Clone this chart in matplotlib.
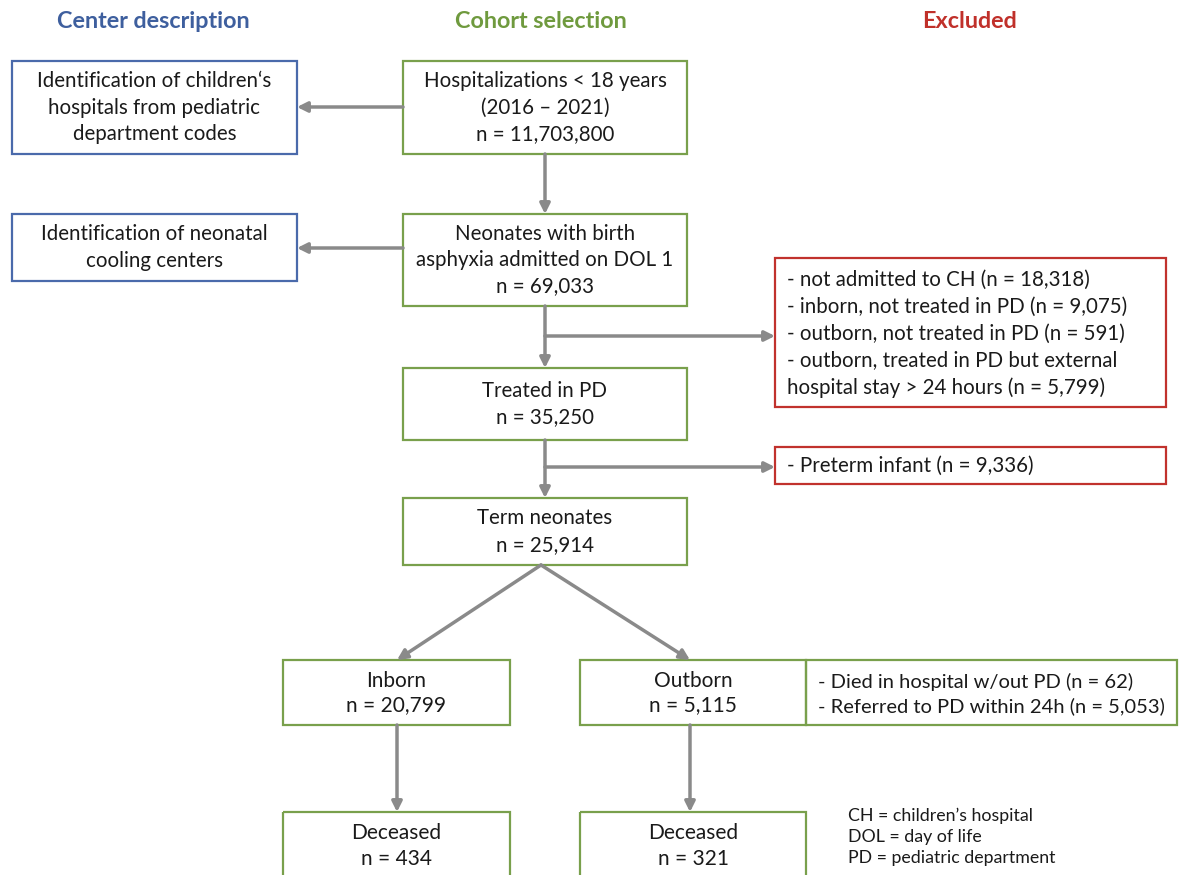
import matplotlib.pyplot as plt
from matplotlib.patches import Rectangle

plt.rcParams['font.family'] = ['Lato', 'DejaVu Sans']

BLUE = '#4a6aab'
GREEN = '#79a04c'
RED = '#c1322d'
GRAY = '#8a8a8a'

headers = ['Center description', 'Cohort selection', 'Excluded']
header_x = [153, 541, 970]
header_col = ['#3e5f9e', '#6f9a3e', '#c0302a']

center_labels = ['Identification of children\u2018s\nhospitals from pediatric\ndepartment codes',
                 'Identification of neonatal\ncooling centers']

cohort_labels = ['Hospitalizations < 18 years\n(2016 \u2013 2021)\nn = 11,703,800',
                 'Neonates with birth\nasphyxia admitted on DOL 1\nn = 69,033',
                 'Treated in PD\nn = 35,250',
                 'Term neonates\nn = 25,914']

excluded_labels = ['- not admitted to CH (n = 18,318)\n- inborn, not treated in PD (n = 9,075)\n'
                   '- outborn, not treated in PD (n = 591)\n- outborn, treated in PD but external\n'
                   'hospital stay > 24 hours (n = 5,799)',
                   '- Preterm infant (n = 9,336)']

split_labels = ['Inborn\nn = 20,799', 'Outborn\nn = 5,115']
outborn_note = '- Died in hospital w/out PD (n = 62)\n- Referred to PD within 24h (n = 5,053)'
deceased_labels = ['Deceased\nn = 434', 'Deceased\nn = 321']
abbrev = 'CH = children\u2019s hospital\nDOL = day of life\nPD = pediatric department'

fig = plt.figure(figsize=(11.79, 8.75), dpi=100)
ax = fig.add_axes([0, 0, 1, 1])
ax.set_xlim(0, 1179)
ax.set_ylim(875, 0)
ax.axis('off')


def box(x0, y0, x1, y1, text, col, ha='center', fs=14.8, ls=1.4, ty=None, pad=12):
    ax.add_patch(Rectangle((x0, y0), x1 - x0, y1 - y0, fill=False, ec=col, lw=1.6))
    tx = (x0 + x1) / 2 if ha == 'center' else x0 + pad
    if ty is None:
        ty = (y0 + y1) / 2
    ax.text(tx, ty, text, ha=ha, va='center', fontsize=fs,
            linespacing=ls, color='#1a1a1a', multialignment=ha)


def arrow(x0, y0, x1, y1):
    ax.annotate('', xy=(x1, y1), xytext=(x0, y0),
                arrowprops=dict(arrowstyle='-|>,head_length=0.6,head_width=0.3',
                                color=GRAY, lw=2.5, shrinkA=0, shrinkB=0))


for h, x, c in zip(headers, header_x, header_col):
    ax.text(x, 21, h, ha='center', va='center', fontsize=16.8, fontweight='bold', color=c)

# center description
box(12, 61, 297, 154, center_labels[0], BLUE)
box(12, 214, 297, 281, center_labels[1], BLUE)

# cohort
cohort_y = [(61, 154), (214, 306), (368, 440), (498, 565)]
for (y0, y1), lab in zip(cohort_y, cohort_labels):
    box(403, y0, 687, y1, lab, GREEN)

# excluded
box(775, 258, 1166, 407, excluded_labels[0], RED, ha='left', ls=1.43, ty=334)
box(775, 447, 1166, 484, excluded_labels[1], RED, ha='left')

# split
box(283, 660, 510, 725, split_labels[0], GREEN, fs=15, ls=1.3, ty=693)
box(580, 660, 806, 725, split_labels[1], GREEN, fs=15, ls=1.3, ty=693)
box(806, 660, 1177, 725, outborn_note, GREEN, ha='left', fs=14.5, ls=1.45, ty=694)
box(283, 812, 510, 900, deceased_labels[0], GREEN, fs=15, ls=1.35, ty=846)
box(580, 812, 806, 900, deceased_labels[1], GREEN, fs=15, ls=1.35, ty=846)
ax.text(848, 837, abbrev, ha='left', va='center', fontsize=12.8, linespacing=1.4, color='#1a1a1a')

# arrows
arrow(403, 107, 297, 107)
arrow(403, 248, 297, 248)
arrow(545, 154, 545, 214)
arrow(545, 306, 545, 368)
arrow(545, 440, 545, 498)
arrow(545, 336, 775, 336)
arrow(545, 467, 775, 467)
arrow(541, 565, 397, 660)
arrow(541, 565, 690, 660)
arrow(397, 725, 397, 812)
arrow(690, 725, 690, 812)

fig.savefig('out.png', dpi=100, facecolor='white')
